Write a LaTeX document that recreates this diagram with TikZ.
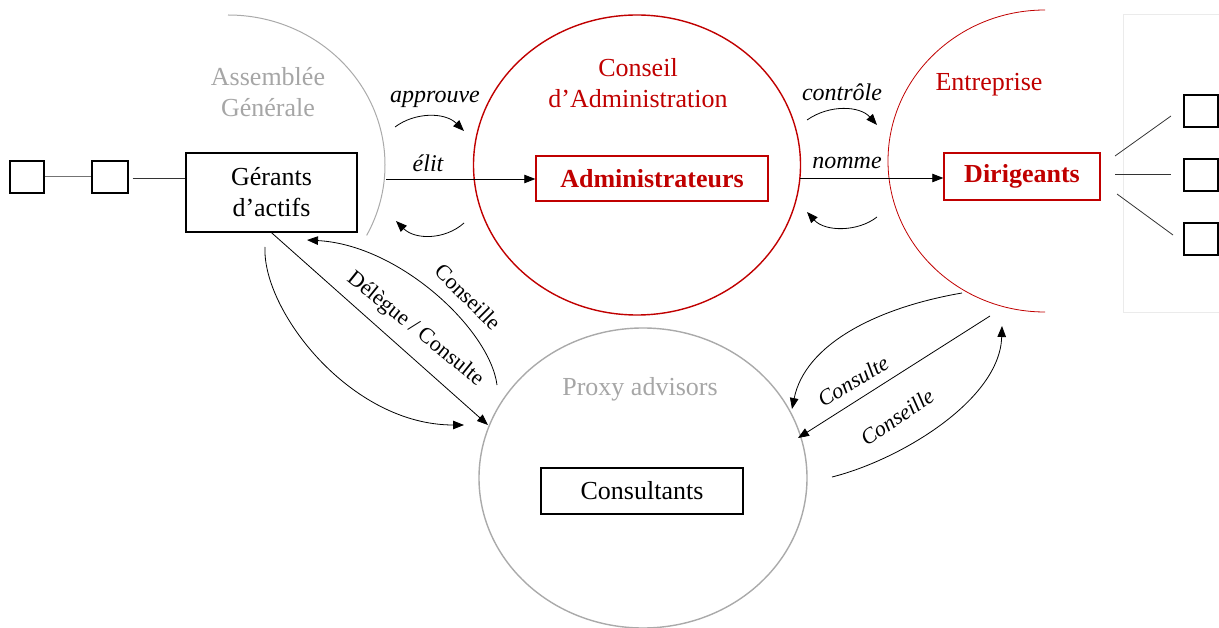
\documentclass[tikz,border=0pt]{standalone}
\usepackage{fontspec}
\setmainfont{Liberation Serif}
\usetikzlibrary{arrows.meta}
\definecolor{dred}{HTML}{C00000}
\definecolor{lgray}{HTML}{A6A6A6}
\definecolor{cgray}{HTML}{AAAAAA}
\begin{document}
\begin{tikzpicture}[x=1pt,y=-1pt,
  txt/.style={font=\fontsize{26}{31}\selectfont, align=center, inner sep=0pt},
  lbl/.style={font=\fontsize{24}{28}\selectfont\itshape, inner sep=0pt},
  rlbl/.style={font=\fontsize{22}{26}\selectfont, inner sep=0pt},
  box/.style={draw, line width=1.4pt, inner sep=0pt, font=\fontsize{26}{31}\selectfont, align=center},
  sq/.style={draw, line width=1.4pt, inner sep=0pt, minimum width=34pt, minimum height=32pt},
  conn/.style={line width=0.8pt},
  arr/.style={line width=0.8pt, -{Triangle[length=11pt,width=8.5pt]}},
]
\useasboundingbox (0,0) rectangle (1219,628);

% light panel at right
\draw[line width=0.6pt, black!8] (1219,14) -- (1123,14) -- (1123,312) -- (1219,312);

% circles and arcs
\draw[cgray, line width=1pt] (228,15) arc[start angle=-90, end angle=28, x radius=157, y radius=150];
\draw[dred, line width=1.4pt] (637,165) ellipse [x radius=163.5, y radius=150];
\draw[dred, line width=0.8pt] (1045,10) arc[start angle=-90, end angle=-270, x radius=157, y radius=151];
\draw[cgray, line width=1.4pt] (643,478) ellipse [x radius=164, y radius=150];

% group labels
\node[txt, text=lgray] (ag) at (268,92) {Assemblée\\Générale};
\node[txt, text=dred] (ca) at (638,83) {Conseil\\d’Administration};
\node[txt, text=dred] (ent) at (989,85) {Entreprise};
\node[txt, text=lgray] (pa) at (640,389) {Proxy advisors};

% boxes
\node[box, minimum width=171pt, minimum height=79pt] (G) at (271.5,192.5) {Gérants\\d’actifs};
\node[box, draw=dred, text=dred, font=\fontsize{26}{31}\selectfont\bfseries, minimum width=232pt, minimum height=45pt] (A) at (652,178.5) {Administrateurs};
\node[box, draw=dred, text=dred, font=\fontsize{26}{31}\selectfont\bfseries, minimum width=156pt, minimum height=47pt] (D) at (1022,176.5) {Dirigeants};
\node[box, minimum width=202pt, minimum height=46pt] (C) at (642,491) {Consultants};

% small squares
\node[sq] (s1) at (27,177) {};
\node[sq, minimum width=36pt] (s2) at (110,177) {};
\node[sq] (r1) at (1201,111) {};
\node[sq] (r2) at (1201,175) {};
\node[sq] (r3) at (1201,239) {};

\draw[line width=1pt, black!55] (s1) -- (s2);
\draw[conn, black!80] (s2.east) ++(4,1) coordinate (s2r) (s2r) -- (G.west |- s2r);

\coordinate (d1) at (1115,156); \coordinate (e1) at (1171,116);
\coordinate (d2) at (1115,174); \coordinate (e2) at (1171,174);
\coordinate (d3) at (1117,194); \coordinate (e3) at (1173,235);
\draw[conn, black!80] (d1) -- (e1);
\draw[conn, black!80] (d2) -- (e2);
\draw[conn, black!80] (d3) -- (e3);

% top arrows
\coordinate (agE) at (386,179);
\coordinate (caE) at (800,178);
\draw[arr] (agE) -- (A.west |- agE);
\draw[arr] (caE) -- (D.west |- caE);

\node[lbl] (lapp) at (435,99) {approuve};
\node[lbl] (lelit) at (428,163) {élit};
\node[lbl] (lctl) at (842,92) {contrôle};
\node[lbl] (lnom) at (847,163) {nomme};

\coordinate (a1) at (395,127); \coordinate (a2) at (464,131);
\draw[arr] (a1) .. controls (415,112) and (445,112) .. (a2);
\coordinate (b1) at (464,223); \coordinate (b2) at (396,221);
\draw[arr] (b1) .. controls (445,240) and (415,240) .. (b2);
\coordinate (c1) at (807,120); \coordinate (c2) at (877,125);
\draw[arr] (c1) .. controls (830,104) and (860,106) .. (c2);
\coordinate (f1) at (877,217); \coordinate (f2) at (807,212);
\draw[arr] (f1) .. controls (858,232) and (825,232) .. (f2);

% left side connectors
\coordinate (pL) at (488,425);
\draw[arr] (G.south) -- (pL);
\coordinate (cs) at (497,385); \coordinate (ce) at (307,240);
\draw[arr] (cs) .. controls (490,330) and (400,245) .. (ce);
\coordinate (os) at (265,247); \coordinate (oe) at (464,425);
\draw[arr] (os) .. controls (262,310) and (350,425) .. (oe);

\node[rlbl, rotate=-39] (ldc) at (415,329) {Délègue / Consulte};
\node[rlbl, rotate=-45] (lcl) at (468,297) {Conseille};

% right side connectors
\coordinate (q1) at (962,293); \coordinate (q2) at (792,409);
\draw[arr] (q1) .. controls (875,308) and (805,345) .. (q2);
\coordinate (q3) at (990,316); \coordinate (q4) at (798,438);
\draw[arr] (q3) -- (q4);
\coordinate (q5) at (832,477); \coordinate (q6) at (1002,326);
\draw[arr] (q5) .. controls (900,460) and (1000,400) .. (q6);

\node[rlbl, font=\fontsize{22}{26}\selectfont\itshape, rotate=31] (lcs) at (853,381) {Consulte};
\node[rlbl, font=\fontsize{22}{26}\selectfont\itshape, rotate=34] (lcn) at (897,417) {Conseille};
\end{tikzpicture}
\end{document}
